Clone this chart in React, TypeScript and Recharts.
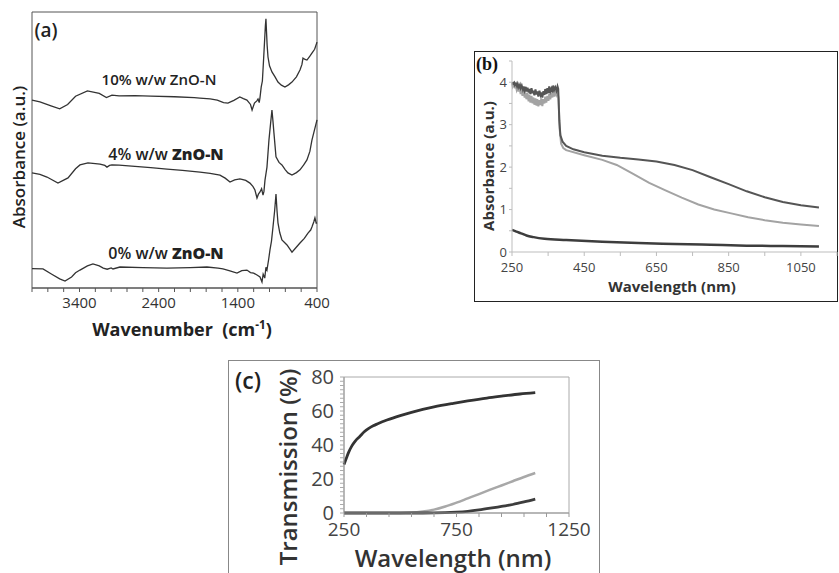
import React from 'react';
import { LineChart, Line, XAxis, YAxis, ReferenceArea } from 'recharts';

const SANS = "'Open Sans', 'DejaVu Sans', sans-serif";
const SERIF = "'Liberation Serif', 'DejaVu Serif', serif";

// ---------- Panel (a): FTIR spectra [wavenumber cm-1, absorbance a.u. (offset)] ----------
const ftirTicks = [4000, 3800, 3600, 3400, 3200, 3000, 2800, 2600, 2400, 2200, 2000, 1800, 1600, 1400, 1200, 1000, 800, 600, 400];
const ftirLabels = [3400, 2400, 1400, 400];

const ftir10 = [[4000,68.1],[3900,67.4],[3760,66.0],[3650,64.9],[3550,66.5],[3450,69.5],[3300,71.4],[3150,70.5],[3060,69.0],[2990,69.9],[2900,69.6],[2700,69.7],[2500,69.5],[2200,69.3],[1950,69.0],[1880,68.8],[1750,68.5],[1660,68.1],[1580,67.2],[1525,67.0],[1450,68.0],[1375,69.2],[1330,68.6],[1285,68.1],[1240,66.5],[1220,64.5],[1190,67.0],[1160,67.8],[1145,68.5],[1130,67.2],[1120,69.0],[1105,72.8],[1090,75.0],[1080,80.1],[1065,88],[1052,95],[1045,97.5],[1038,93],[1030,88],[1019,83.7],[1000,80.5],[969,78.3],[930,76.5],[893,74.6],[850,73.5],[805,72.8],[760,73.6],[716,74.6],[660,76.5],[615,79.0],[590,81],[577,83.3],[550,82.8],[527,82.6],[490,84],[464,85.1],[430,86.5],[400,89.1]];

const ftir4 = [[4000,41.7],[3900,41.2],[3811,40.2],[3672,38.0],[3545,39.9],[3450,43.2],[3394,44.6],[3293,45.3],[3200,45.1],[3141,44.9],[3080,44.4],[3053,43.8],[3020,44.4],[2990,44.6],[2900,44.5],[2700,44.1],[2500,43.6],[2295,43.1],[2100,42.6],[1878,42.0],[1750,41.5],[1626,40.9],[1560,39.8],[1499,38.4],[1440,39.2],[1373,39.5],[1300,39.0],[1247,38.0],[1210,36.8],[1184,35.5],[1158,32.6],[1140,34.0],[1120,34.8],[1100,36],[1082,33.7],[1070,35],[1057,39.1],[1032,43.8],[1007,53.6],[985,60],[969,64.5],[955,60],[944,56.2],[918,47.5],[880,45.5],[843,44.6],[800,42.8],[767,41.7],[716,40.9],[660,41.8],[615,42.8],[570,44.5],[527,46.4],[490,49.5],[464,53.6],[430,57.5],[400,60.9]];

const ftir0 = [[4000,7.0],[3861,6.9],[3750,5.0],[3650,3.3],[3583,2.5],[3500,4.0],[3450,5.5],[3394,6.5],[3300,8.0],[3230,8.7],[3150,8.0],[3100,7.2],[3050,6.8],[3000,7.3],[2977,6.9],[2889,7.6],[2600,7.4],[2295,7.2],[2000,7.4],[1790,7.6],[1650,7.2],[1588,6.9],[1500,6.2],[1411,5.4],[1350,6.3],[1285,6.5],[1240,5.6],[1200,5.4],[1158,4.7],[1120,4.0],[1095,2.2],[1080,5.0],[1060,3.6],[1045,7.5],[1032,6.5],[1010,10.5],[994,13.8],[975,17],[956,22.1],[935,28],[918,34.0],[905,28],[893,23.6],[870,20],[843,17.4],[810,16.5],[779,15.6],[740,14],[716,13.0],[670,14.5],[615,16.3],[560,18],[514,19.9],[480,21],[464,22.1],[440,24],[426,25.4],[410,23.5],[400,23.6]];

// ---------- Panel (b): UV-vis absorbance [nm, a.u.] ----------
const absTicksX = [250, 350, 450, 550, 650, 750, 850, 950, 1050, 1150];
const absLabelsX = [250, 450, 650, 850, 1050];
const absTicksY = [0, 0.5, 1, 1.5, 2, 2.5, 3, 3.5, 4, 4.5];

const absDark = [[250,4.0],[253,3.96],[256,3.99],[258,3.93],[261,3.97],[264,3.9],[266,3.96],[269,3.88],[272,3.94],[274,3.86],[277,3.92],[280,3.83],[282,3.9],[285,3.8],[288,3.89],[290,3.78],[293,3.87],[296,3.76],[298,3.84],[301,3.72],[304,3.86],[307,3.74],[309,3.8],[312,3.69],[315,3.83],[318,3.71],[320,3.78],[323,3.66],[326,3.8],[329,3.7],[331,3.76],[334,3.64],[337,3.79],[340,3.7],[342,3.84],[345,3.72],[348,3.86],[351,3.74],[353,3.9],[356,3.78],[359,3.85],[362,3.76],[364,3.92],[367,3.82],[370,3.88],[373,3.8],[376,3.9],[378,3.84],[381,3.1],[384,2.75],[390,2.6],[400,2.5],[420,2.42],[450,2.35],[500,2.27],[550,2.22],[600,2.18],[650,2.13],[700,2.05],[750,1.93],[800,1.76],[850,1.6],[900,1.43],[950,1.29],[1000,1.18],[1050,1.1],[1100,1.05]];

const absGray = [[250,3.97],[252,3.9],[255,3.96],[258,3.86],[260,3.93],[263,3.82],[266,3.9],[268,3.78],[271,3.86],[274,3.72],[276,3.84],[279,3.68],[282,3.8],[285,3.64],[287,3.76],[290,3.6],[293,3.74],[296,3.55],[298,3.7],[301,3.52],[304,3.68],[307,3.5],[309,3.64],[312,3.47],[315,3.62],[318,3.45],[320,3.6],[323,3.43],[326,3.58],[329,3.46],[331,3.62],[334,3.44],[337,3.6],[340,3.5],[342,3.66],[345,3.52],[348,3.68],[351,3.56],[353,3.72],[356,3.6],[359,3.74],[362,3.64],[364,3.78],[367,3.66],[370,3.8],[373,3.7],[376,3.76],[379,3.62],[382,2.9],[386,2.55],[392,2.45],[400,2.4],[450,2.28],[500,2.17],[540,2.05],[583,1.85],[630,1.63],[675,1.45],[720,1.28],[766,1.12],[810,1.0],[857,0.91],[904,0.82],[950,0.75],[1000,0.69],[1050,0.65],[1100,0.61]];

const absBase = [[250,0.52],[262,0.48],[275,0.44],[290,0.39],[310,0.35],[340,0.31],[400,0.28],[500,0.24],[600,0.21],[700,0.19],[800,0.17],[900,0.15],[1000,0.14],[1100,0.13]];

// ---------- Panel (c): Transmission [nm, %] ----------
const trTicksX = [250, 350, 450, 550, 650, 750, 850, 950, 1050, 1150, 1250];
const trLabelsX = [250, 750, 1250];
const trTicksY = Array.from({ length: 33 }, (_, i) => i * 2.5);
const trLabelsY = [0, 20, 40, 60, 80];

const trTop = [[250,28.5],[260,32],[270,35.5],[285,39.5],[300,42.3],[320,45],[340,47.8],[360,49.8],[380,51.3],[400,52.5],[441,54.7],[500,57.3],[550,59.2],[600,60.9],[650,62.4],[736,64.5],[800,65.9],[885,67.6],[950,68.7],[1032,70],[1100,70.8]];
const trGray = [[250,0],[450,0],[550,0.3],[600,0.9],[650,2.0],[700,3.8],[750,6.1],[800,8.6],[850,11.1],[900,13.7],[950,16.2],[1000,18.7],[1050,21.2],[1100,23.5]];
const trBase = [[250,0],[400,0],[600,0],[700,0.2],[750,0.5],[800,1.0],[850,1.8],[900,2.8],[950,3.9],[1000,5.0],[1050,6.5],[1100,8.2]];

const toPts = (arr: number[][]) => arr.map(([x, y]) => ({ x, y }));

type TxtProps = { x: number; y: number; size: number; weight?: number; rotate?: boolean; family?: string; color?: string; children: React.ReactNode };
const Txt = ({ x, y, size, weight = 400, rotate, family = SANS, color = '#222', children }: TxtProps) => (
  <div
    style={{
      position: 'absolute', left: x, top: y, fontSize: size, fontWeight: weight, fontFamily: family, color,
      lineHeight: 1, whiteSpace: 'nowrap',
      transform: `translate(-50%, -50%)${rotate ? ' rotate(-90deg)' : ''}`,
    }}
  >
    {children}
  </div>
);

export default function App() {
  return (
    <div style={{ position: 'absolute', left: 0, top: 0, width: 839, height: 573, overflow: 'hidden', background: '#fff' }}>
      {/* frames */}
      <div style={{ position: 'absolute', left: 474, top: 51, width: 364, height: 251, border: '1px solid #222', boxSizing: 'border-box' }} />
      <div style={{ position: 'absolute', left: 228, top: 360, width: 372, height: 240, border: '1px solid #888', boxSizing: 'border-box' }} />

      {/* Panel (a) */}
      <div style={{ position: 'absolute', left: 0, top: 0 }}>
        <LineChart width={330} height={340} margin={{ top: 12, right: 13, left: 32, bottom: 22 }}>
          <XAxis type="number" dataKey="x" domain={[400, 4000]} reversed ticks={ftirTicks} interval={0}
            tickFormatter={(v: number) => (ftirLabels.includes(v) ? String(v) : '')}
            height={30} tickSize={4} tickMargin={5}
            axisLine={{ stroke: '#555' }} tickLine={{ stroke: '#555' }}
            tick={{ fontSize: 15, fill: '#333', fontFamily: SANS }} />
          <YAxis type="number" domain={[0, 100]} hide />
          <ReferenceArea x1={400} x2={4000} y1={0} y2={100} fill="none" stroke="#555" strokeWidth={1} />
          <Line data={toPts(ftir10)} dataKey="y" type="linear" dot={false} stroke="#333" strokeWidth={1.3} isAnimationActive={false} />
          <Line data={toPts(ftir4)} dataKey="y" type="linear" dot={false} stroke="#333" strokeWidth={1.3} isAnimationActive={false} />
          <Line data={toPts(ftir0)} dataKey="y" type="linear" dot={false} stroke="#333" strokeWidth={1.3} isAnimationActive={false} />
        </LineChart>
      </div>
      <Txt x={46} y={30} size={19} weight={600}>(a)</Txt>
      <Txt x={18} y={157} size={17} weight={600} rotate>Absorbance (a.u.)</Txt>
      <Txt x={159} y={79} size={15} weight={600}>10% w/w ZnO-N</Txt>
      <Txt x={166} y={154} size={16} weight={600}>4% w/w <b>ZnO-N</b></Txt>
      <Txt x={166} y={253} size={16} weight={600}>0% w/w <b>ZnO-N</b></Txt>
      <Txt x={182} y={328} size={18} weight={700}>
        Wavenumber{'\u00a0\u00a0'}(cm<span style={{ fontSize: '0.65em', verticalAlign: 'super' }}>-1</span>)
      </Txt>

      {/* Panel (b) */}
      <div style={{ position: 'absolute', left: 474, top: 51 }}>
        <LineChart width={364} height={250} margin={{ top: 10, right: 1, left: 18, bottom: 28 }}>
          <XAxis type="number" dataKey="x" domain={[250, 1150]} ticks={absTicksX} interval={0}
            tickFormatter={(v: number) => (absLabelsX.includes(v) ? String(v) : '')}
            height={21} tickSize={4} tickMargin={7}
            axisLine={{ stroke: '#bdbdbd' }} tickLine={{ stroke: '#bdbdbd' }}
            tick={{ fontSize: 13, fill: '#444', fontFamily: SANS }} />
          <YAxis type="number" domain={[0, 4.5]} ticks={absTicksY} interval={0} width={20}
            tickFormatter={(v: number) => (Number.isInteger(v) ? String(v) : '')}
            tickSize={3} tickMargin={2}
            axisLine={{ stroke: '#bdbdbd' }} tickLine={{ stroke: '#bdbdbd' }}
            tick={{ fontSize: 13, fill: '#444', fontFamily: SANS }} />
          <Line data={toPts(absGray)} dataKey="y" type="linear" dot={false} stroke="#a3a3a3" strokeWidth={2} isAnimationActive={false} />
          <Line data={toPts(absDark)} dataKey="y" type="linear" dot={false} stroke="#555" strokeWidth={2} isAnimationActive={false} />
          <Line data={toPts(absBase)} dataKey="y" type="monotone" dot={false} stroke="#3d3d3d" strokeWidth={2.5} isAnimationActive={false} />
        </LineChart>
      </div>
      <Txt x={487} y={64} size={18} weight={700} family={SERIF} color="#111">(b)</Txt>
      <Txt x={488} y={166} size={15} weight={700} rotate color="#333">Absorbance (a.u.)</Txt>
      <Txt x={672} y={286} size={15} weight={700} color="#333">Wavelength (nm)</Txt>

      {/* Panel (c) */}
      <div style={{ position: 'absolute', left: 228, top: 360 }}>
        <LineChart width={372} height={213} margin={{ top: 17, right: 31, left: 66, bottom: 30 }}>
          <XAxis type="number" dataKey="x" domain={[250, 1250]} ticks={trTicksX} interval={0}
            tickFormatter={(v: number) => (trLabelsX.includes(v) ? String(v) : '')}
            height={30} tickSize={4} tickMargin={6}
            axisLine={{ stroke: '#999' }} tickLine={{ stroke: '#999' }}
            tick={{ fontSize: 19, fill: '#444', fontFamily: SANS }} />
          <YAxis type="number" domain={[0, 80]} ticks={trTicksY} interval={0} width={50}
            tickFormatter={(v: number) => (trLabelsY.includes(v) ? String(v) : '')}
            tickSize={4} tickMargin={6}
            axisLine={{ stroke: '#999' }} tickLine={{ stroke: '#aaa' }}
            tick={{ fontSize: 20, fill: '#444', fontFamily: SANS }} />
          <ReferenceArea x1={250} x2={1250} y1={0} y2={80} fill="none" stroke="#aaa" strokeWidth={1} />
          <Line data={toPts(trGray)} dataKey="y" type="monotone" dot={false} stroke="#a8a8a8" strokeWidth={2.5} isAnimationActive={false} />
          <Line data={toPts(trBase)} dataKey="y" type="monotone" dot={false} stroke="#3d3d3d" strokeWidth={2.8} isAnimationActive={false} />
          <Line data={toPts(trTop)} dataKey="y" type="monotone" dot={false} stroke="#333" strokeWidth={2.8} isAnimationActive={false} />
        </LineChart>
      </div>
      <Txt x={248} y={380} size={23} weight={600} color="#222">(c)</Txt>
      <Txt x={288} y={467} size={24} weight={600} rotate color="#333">Transmission (%)</Txt>
      <Txt x={453} y={558} size={24} weight={600} color="#333">Wavelength (nm)</Txt>
    </div>
  );
}
